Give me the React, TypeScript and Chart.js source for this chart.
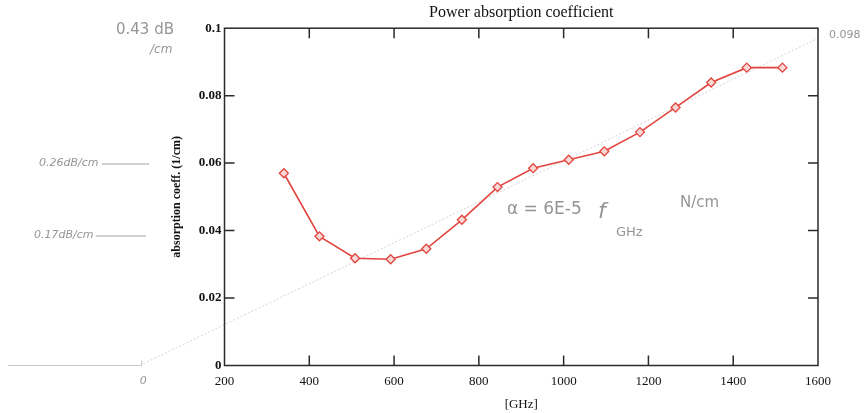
import React, { useEffect, useRef } from 'react';
import { Chart, registerables } from 'chart.js';

Chart.register(...registerables);

// ---- data ----
const frequencies = [340, 424, 508, 592, 676, 760, 844, 928, 1012, 1096, 1180, 1264, 1348, 1432, 1516];
const absorption = [0.057, 0.0383, 0.0318, 0.0315, 0.0346, 0.0432, 0.0529, 0.0585, 0.061, 0.0635, 0.0692, 0.0765, 0.0839, 0.0883, 0.0883];
const fitFrequencies = [0, 1600];
const fitValues = [0, 0.097];
const xTickValues = [200, 400, 600, 800, 1000, 1200, 1400, 1600];
const xTickLabels = ['200', '400', '600', '800', '1000', '1200', '1400', '1600'];
const yTickValues = [0, 0.02, 0.04, 0.06, 0.08, 0.1];
const yTickLabels = ['0', '0.02', '0.04', '0.06', '0.08', '0.1'];

const SERIF = "'Liberation Serif', 'Times New Roman', serif";
const HAND = "'DejaVu Sans', sans-serif";

const framePlugin = {
  id: 'frame',
  afterDatasetsDraw(chart: any) {
    const { ctx, chartArea } = chart;
    const { left, right, top, bottom } = chartArea;
    const xs = chart.scales.x;
    const ys = chart.scales.y;
    ctx.save();
    ctx.strokeStyle = '#2a2a2a';
    ctx.lineWidth = 1.5;
    ctx.strokeRect(left, top, right - left, bottom - top);
    const tl = 10;
    ctx.beginPath();
    xTickValues.slice(1, -1).forEach((v) => {
      const px = xs.getPixelForValue(v);
      ctx.moveTo(px, bottom);
      ctx.lineTo(px, bottom - tl);
      ctx.moveTo(px, top);
      ctx.lineTo(px, top + tl);
    });
    yTickValues.slice(1, -1).forEach((v) => {
      const py = ys.getPixelForValue(v);
      ctx.moveTo(left, py);
      ctx.lineTo(left + tl, py);
      ctx.moveTo(right, py);
      ctx.lineTo(right - tl, py);
    });
    ctx.stroke();
    ctx.restore();
  },
};

const notesPlugin = {
  id: 'notes',
  afterDraw(chart: any) {
    const { ctx, chartArea } = chart;
    const { bottom } = chartArea;
    const xs = chart.scales.x;
    const x0 = xs.getPixelForValue(0);
    ctx.save();
    // hand-drawn extension of the axis
    ctx.strokeStyle = '#c4c4c4';
    ctx.lineWidth = 1;
    ctx.beginPath();
    ctx.moveTo(8, bottom);
    ctx.lineTo(x0, bottom);
    ctx.moveTo(x0 + 2, bottom - 5);
    ctx.lineTo(x0 + 2, bottom + 1);
    ctx.stroke();

    ctx.fillStyle = '#959595';
    ctx.textBaseline = 'middle';
    ctx.textAlign = 'left';

    ctx.font = `italic 11px ${HAND}`;
    ctx.fillText('0', x0 + 0, bottom + 16);

    ctx.font = `15px ${HAND}`;
    ctx.fillText('0.43 dB', 116, 30);
    ctx.font = `italic 12px ${HAND}`;
    ctx.fillText('/cm', 150, 50);

    ctx.font = `italic 11px ${HAND}`;
    ctx.fillText('0.26dB/cm', 39, 163);
    ctx.fillText('0.17dB/cm', 34, 235);
    ctx.strokeStyle = '#a0a0a0';
    ctx.beginPath();
    ctx.moveTo(102, 164);
    ctx.lineTo(149, 164);
    ctx.moveTo(96, 236);
    ctx.lineTo(146, 236);
    ctx.stroke();

    ctx.font = `17px ${HAND}`;
    ctx.fillText('\u03b1 = 6E-5', 507, 210);
    ctx.font = `italic 22px ${HAND}`;
    ctx.fillText('f', 598, 212);
    ctx.font = `13px ${HAND}`;
    ctx.fillText('GHz', 616, 233);
    ctx.font = `15px ${HAND}`;
    ctx.fillText('N/cm', 680, 203);

    ctx.font = `11px ${HAND}`;
    ctx.fillText('0.098', 829, 35);
    ctx.restore();
  },
};

export default function App() {
  const ref = useRef<HTMLCanvasElement | null>(null);

  useEffect(() => {
    if (!ref.current) return;
    const chart = new Chart(ref.current, {
      type: 'line',
      data: {
        datasets: [
          {
            label: 'absorption',
            data: frequencies.map((f, i) => ({ x: f, y: absorption[i] })),
            borderColor: '#e2453f',
            backgroundColor: '#f7cfcc',
            borderWidth: 1.6,
            pointStyle: 'rectRot',
            pointRadius: 4.5,
            pointBorderWidth: 1.3,
            pointBorderColor: '#e2453f',
            pointBackgroundColor: '#f9d9d6',
            tension: 0,
          },
          {
            label: 'fit',
            data: fitFrequencies.map((f, i) => ({ x: f, y: fitValues[i] })),
            borderColor: '#d4d4d4',
            borderWidth: 1,
            borderDash: [2, 2],
            pointRadius: 0,
            clip: false as any,
          },
        ],
      },
      options: {
        animation: false,
        responsive: true,
        maintainAspectRatio: false,
        layout: { padding: { left: 160, right: 49, top: 0, bottom: 0 } },
        plugins: {
          legend: { display: false },
          tooltip: { enabled: false },
          title: {
            display: true,
            text: 'Power absorption coefficient',
            fullSize: false,
            color: '#111',
            font: { family: SERIF, size: 16, weight: 'normal', lineHeight: 1.2 },
            padding: { top: 3, bottom: 6 },
          },
        },
        scales: {
          x: {
            type: 'linear',
            min: 200,
            max: 1600,
            grid: { display: false, drawTicks: false },
            border: { display: false },
            afterBuildTicks: (s: any) => {
              s.ticks = xTickValues.map((v) => ({ value: v }));
            },
            afterFit: (s: any) => {
              s.height = 47.5;
            },
            ticks: {
              autoSkip: false,
              maxRotation: 0,
              padding: 8,
              color: '#111',
              font: { family: SERIF, size: 13 },
              callback: (v: any) => xTickLabels[xTickValues.indexOf(Number(v))] ?? '',
            },
            title: {
              display: true,
              text: '[GHz]',
              color: '#111',
              font: { family: SERIF, size: 13, lineHeight: 1.2 },
              padding: { top: 0, bottom: 1 },
            },
          },
          y: {
            type: 'linear',
            min: 0,
            max: 0.1,
            grid: { display: false, drawTicks: false },
            border: { display: false },
            afterBuildTicks: (s: any) => {
              s.ticks = yTickValues.map((v) => ({ value: v }));
            },
            afterFit: (s: any) => {
              s.width = 64.5;
            },
            ticks: {
              padding: 3,
              color: '#111',
              font: { family: SERIF, size: 13, weight: 'bold' },
              callback: (v: any) => {
                const i = yTickValues.findIndex((t) => Math.abs(t - Number(v)) < 1e-9);
                return i >= 0 ? yTickLabels[i] : '';
              },
            },
            title: {
              display: true,
              text: 'absorption coeff. (1/cm)',
              color: '#111',
              font: { family: SERIF, size: 12, weight: 'bold', lineHeight: 1.2 },
              padding: { top: 10, bottom: 0 },
            },
          },
        },
      },
      plugins: [framePlugin, notesPlugin],
    });
    return () => chart.destroy();
  }, []);

  return (
    <div style={{ position: 'absolute', left: 0, top: 0, width: 867, height: 413, background: '#fff' }}>
      <canvas ref={ref} />
    </div>
  );
}
